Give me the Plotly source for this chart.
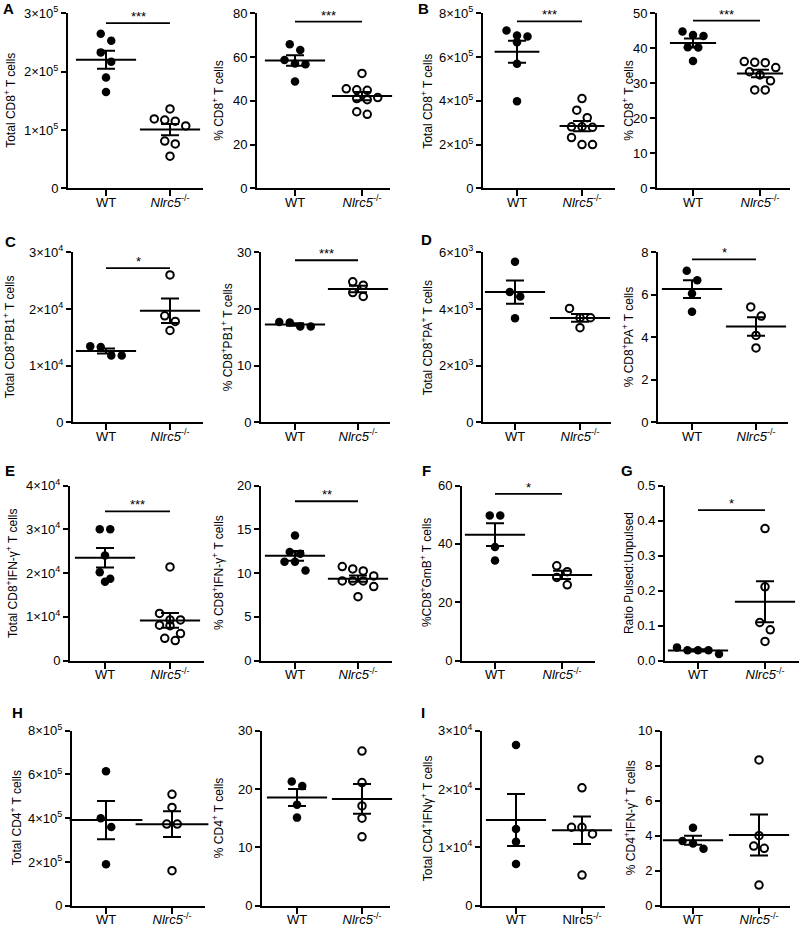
import numpy as np
import plotly.graph_objects as go

# ---------------- data ----------------
GROUPS = ["WT", "Nlrc5"]

A_total_wt = [2.65e5, 2.53e5, 2.33e5, 2.17e5, 1.90e5, 1.65e5]
A_total_ko = [1.36e5, 1.17e5, 1.07e5, 1.15e5, 1.19e5, 0.81e5, 0.76e5, 0.55e5]
A_pct_wt = [65.8, 63.2, 56.7, 57.1, 58.7, 48.8]
A_pct_ko = [52.5, 45.0, 45.5, 44.8, 41.5, 41.0, 40.5, 35.0, 33.8]

B_total_wt = [6.98e5, 7.21e5, 6.94e5, 6.68e5, 5.69e5, 3.98e5]
B_total_ko = [4.10e5, 3.57e5, 3.23e5, 2.79e5, 2.81e5, 2.81e5, 2.32e5, 2.00e5, 2.00e5]
B_pct_wt = [44.8, 43.5, 43.8, 40.3, 40.2, 36.4]
B_pct_ko = [35.9, 36.2, 36.0, 34.5, 33.3, 32.4, 30.7, 28.1, 28.1]

C_total_wt = [1.33e4, 1.34e4, 1.18e4, 1.18e4]
C_total_ko = [2.60e4, 1.88e4, 1.78e4, 1.62e4]
C_pct_wt = [17.7, 16.9, 16.9, 17.6]
C_pct_ko = [24.8, 24.2, 22.9, 22.2]

D_total_wt = [5.67e3, 4.60e3, 4.44e3, 3.67e3]
D_total_ko = [4.02e3, 3.69e3, 3.69e3, 3.34e3]
D_pct_wt = [6.69, 7.13, 6.06, 5.20]
D_pct_ko = [5.43, 5.00, 4.09, 3.50]

E_total_wt = [3.00e4, 3.00e4, 2.40e4, 2.02e4, 1.80e4, 1.87e4]
E_total_ko = [2.14e4, 1.08e4, 0.93e4, 0.93e4, 0.81e4, 0.80e4, 0.62e4, 0.51e4, 0.46e4]
E_pct_wt = [14.3, 12.4, 12.2, 11.3, 11.3, 10.3]
E_pct_ko = [10.74, 10.48, 10.25, 9.68, 9.11, 9.11, 9.11, 8.46, 7.31]

F_pct_wt = [49.7, 49.7, 38.9, 34.3]
F_pct_ko = [32.5, 30.5, 28.5, 26.0]

G_ratio_wt = [0.038, 0.030, 0.019, 0.030, 0.030]
G_ratio_ko = [0.377, 0.211, 0.109, 0.088, 0.055]

H_total_wt = [6.15e5, 4.00e5, 3.60e5, 1.90e5]
H_total_ko = [5.09e5, 4.49e5, 3.73e5, 3.73e5, 1.60e5]
H_pct_wt = [20.5, 21.3, 17.3, 15.1]
H_pct_ko = [26.5, 21.1, 17.1, 15.0, 11.8]

I_total_wt = [2.755e4, 1.315e4, 1.098e4, 0.715e4]
I_total_ko = [2.02e4, 1.345e4, 1.345e4, 1.23e4, 0.526e4]
I_pct_wt = [4.45, 3.70, 3.55, 3.25]
I_pct_ko = [8.33, 4.00, 3.41, 3.28, 1.18]

# ---------------- layout geometry (pixels in 800x926 page) ----------------
W, H = 800, 926
FONT = "Arial, Liberation Sans, sans-serif"
KO_IT = "<i>Nlrc5</i><sup>-/-</sup>"
KO_PLAIN = "Nlrc5<sup>-/-</sup>"

ROW1 = (13.3, 188.3)
ROW2 = (252.3, 422.3)
ROW3 = (485.5, 660.7)
ROW4 = (730.7, 905.7)

PANELS = [
    dict(wt=A_total_wt, ko=A_total_ko, x0=68, x1=203, tw=106, tk=170, row=ROW1, ymax=3e5, step=1e5, sci=5,
         title="Total CD8<sup>+</sup> T cells", tx=10, sig=("***", 2.83e5)),
    dict(wt=A_pct_wt, ko=A_pct_ko, x0=257, x1=390, tw=295, tk=362, row=ROW1, ymax=80, step=20,
         title="% CD8<sup>+</sup> T cells", tx=218, sig=("***", 76.2)),
    dict(wt=B_total_wt, ko=B_total_ko, x0=483, x1=615, tw=517, tk=582, row=ROW1, ymax=8e5, step=2e5, sci=5,
         title="Total CD8<sup>+</sup> T cells", tx=427, sig=("***", 7.63e5), mw=32),
    dict(wt=B_pct_wt, ko=B_pct_ko, x0=657, x1=790, tw=693, tk=760, row=ROW1, ymax=50, step=10,
         title="% CD8<sup>+</sup> T cells", tx=628, sig=("***", 47.9), mw=33),
    dict(wt=C_total_wt, ko=C_total_ko, x0=73, x1=203, tw=106, tk=170, row=ROW2, ymax=3e4, step=1e4, sci=4,
         title="Total CD8<sup>+</sup>PB1<sup>+</sup> T cells", tx=9, sig=("*", 2.72e4)),
    dict(wt=C_pct_wt, ko=C_pct_ko, x0=261, x1=390, tw=295, tk=358, row=ROW2, ymax=30, step=10,
         title="% CD8<sup>+</sup>PB1<sup>+</sup> T cells", tx=227, sig=("***", 28.6)),
    dict(wt=D_total_wt, ko=D_total_ko, x0=483, x1=611, tw=515, tk=580, row=ROW2, ymax=6e3, step=2e3, sci=3,
         title="Total CD8<sup>+</sup>PA<sup>+</sup> T cells", tx=427, sig=None),
    dict(wt=D_pct_wt, ko=D_pct_ko, x0=658, x1=788, tw=692, tk=756, row=ROW2, ymax=8, step=2,
         title="% CD8<sup>+</sup>PA<sup>+</sup> T cells", tx=628, sig=("*", 7.67)),
    dict(wt=E_total_wt, ko=E_total_ko, x0=70, x1=204, tw=105, tk=170, row=ROW3, ymax=4e4, step=1e4, sci=4,
         title="Total CD8<sup>+</sup>IFN-γ<sup>+</sup> T cells", tx=12, sig=("***", 3.41e4)),
    dict(wt=E_pct_wt, ko=E_pct_ko, x0=261, x1=392, tw=295, tk=358, row=ROW3, ymax=20, step=5,
         title="% CD8<sup>+</sup>IFN-γ<sup>+</sup> T cells", tx=218, sig=("**", 18.2)),
    dict(wt=F_pct_wt, ko=F_pct_ko, x0=462, x1=595, tw=495, tk=562, row=ROW3, ymax=60, step=20,
         title="%CD8<sup>+</sup>GmB<sup>+</sup> T cells", tx=426, sig=("*", 57.1)),
    dict(wt=G_ratio_wt, ko=G_ratio_ko, x0=665, x1=799, tw=698, tk=765, row=ROW3, ymax=0.5, step=0.1, dec=1,
         title="Ratio Pulsed:Unpulsed", tx=629, sig=("*", 0.43)),
    dict(wt=H_total_wt, ko=H_total_ko, x0=72, x1=205, tw=106, tk=172, row=ROW4, ymax=8e5, step=2e5, sci=5,
         title="Total CD4<sup>+</sup> T cells", tx=16, sig=None, mw=52),
    dict(wt=H_pct_wt, ko=H_pct_ko, x0=262, x1=390, tw=297, tk=362, row=ROW4, ymax=30, step=10,
         title="% CD4<sup>+</sup> T cells", tx=218, sig=None),
    dict(wt=I_total_wt, ko=I_total_ko, x0=482, x1=605, tw=516, tk=582, row=ROW4, ymax=3e4, step=1e4, sci=4,
         title="Total CD4<sup>+</sup>IFNγ<sup>+</sup> T cells", tx=427, sig=None, ko_label=KO_PLAIN),
    dict(wt=I_pct_wt, ko=I_pct_ko, x0=662, x1=790, tw=693, tk=759, row=ROW4, ymax=10, step=2,
         title="% CD4<sup>+</sup>IFN-γ<sup>+</sup> T cells", tx=630, sig=None),
]

LETTERS = [("A", 8, 8), ("B", 423, 8), ("C", 10, 242), ("D", 427, 239), ("E", 10, 470),
           ("F", 427, 470), ("G", 627, 470), ("H", 17, 712), ("I", 423, 712)]


def swarm(vals, center, px_x, px_y, spacing=10.5, row_h=9.5):
    order = sorted(range(len(vals)), key=lambda i: -vals[i])
    rows = []
    for i in order:
        if rows and (vals[rows[-1][0]] - vals[i]) * px_y < row_h:
            rows[-1].append(i)
        else:
            rows.append([i])
    xs = [0.0] * len(vals)
    for r in rows:
        n = len(r)
        for k, i in enumerate(r):
            xs[i] = center + (k - (n - 1) / 2) * spacing / px_x
    return xs


def tick_text(v, p):
    if p.get("sci"):
        if v == 0:
            return "0"
        e = p["sci"]
        return f"{round(v / 10 ** e):d}×10<sup>{e}</sup>"
    if p.get("dec"):
        return f"{v:.{p['dec']}f}"
    return f"{v:g}"


fig = go.Figure()
layout = {}
annotations = []
shapes = []

for idx, p in enumerate(PANELS, start=1):
    xa = "xaxis" if idx == 1 else f"xaxis{idx}"
    ya = "yaxis" if idx == 1 else f"yaxis{idx}"
    xr = "x" if idx == 1 else f"x{idx}"
    yr = "y" if idx == 1 else f"y{idx}"
    ytop, ybot = p["row"]
    px_x = p["tk"] - p["tw"]
    px_y = (ybot - ytop) / p["ymax"]
    r0 = (p["x0"] - p["tw"]) / px_x
    r1 = 1 + (p["x1"] - p["tk"]) / px_x

    ko_label = p.get("ko_label", KO_IT)
    layout[xa] = dict(
        domain=[p["x0"] / W, p["x1"] / W], range=[r0, r1], anchor=yr, automargin=False,
        tickvals=[0, 1], ticktext=["WT", ko_label], ticklabelstandoff=-5,
        showline=True, linewidth=2, linecolor="black", ticks="outside", ticklen=6,
        tickwidth=2, tickcolor="black", showgrid=False, zeroline=False, fixedrange=True,
        tickfont=dict(family=FONT, size=13, color="black"),
    )
    tv = list(np.round(np.arange(0, p["ymax"] + p["step"] / 2, p["step"]), 6))
    layout[ya] = dict(
        domain=[1 - ybot / H, 1 - ytop / H], range=[0, p["ymax"]], anchor=xr, automargin=False,
        tickvals=tv, ticktext=[tick_text(v, p) for v in tv],
        showline=True, linewidth=2, linecolor="black", ticks="outside", ticklen=5,
        tickwidth=2, tickcolor="black", showgrid=False, zeroline=False, fixedrange=True,
        tickfont=dict(family=FONT, size=13, color="black"),
    )

    for g, vals in enumerate([p["wt"], p["ko"]]):
        xs = swarm(vals, g, px_x, px_y)
        if g == 0:
            marker = dict(symbol="circle", size=8.5, color="black")
        else:
            marker = dict(symbol="circle-open", size=7.5, color="black", line=dict(width=2, color="black"))
        fig.add_trace(go.Scatter(x=xs, y=vals, mode="markers", marker=marker, xaxis=xr, yaxis=yr,
                                 cliponaxis=False, showlegend=False, hoverinfo="y"))
        m = float(np.mean(vals))
        s = float(np.std(vals, ddof=1) / np.sqrt(len(vals)))
        fig.add_trace(go.Scatter(
            x=[g], y=[m], mode="markers", xaxis=xr, yaxis=yr, showlegend=False, cliponaxis=False,
            marker=dict(symbol="line-ew", size=p.get("mw", 43), color="black",
                        line=dict(width=2, color="black")),
            error_y=dict(type="data", array=[s], visible=True, width=9, thickness=2, color="black"),
        ))

    if p["sig"]:
        stars, lvl = p["sig"]
        shapes.append(dict(type="line", xref=xr, yref=yr, x0=0, x1=1, y0=lvl, y1=lvl,
                           line=dict(color="black", width=1.8)))
        annotations.append(dict(text=stars, xref=xr, yref=yr, x=0.5, y=lvl, yanchor="bottom",
                                showarrow=False, yshift=-3,
                                font=dict(family=FONT, size=13, color="black")))

    annotations.append(dict(text=p["title"], xref="paper", yref="paper", x=p["tx"] / W,
                            y=1 - (ytop + ybot) / 2 / H, textangle=-90, showarrow=False,
                            xanchor="center", yanchor="middle",
                            font=dict(family=FONT, size=12, color="black")))

for letter, lx, ly in LETTERS:
    annotations.append(dict(text=f"<b>{letter}</b>", xref="paper", yref="paper", x=lx / W, y=1 - ly / H,
                            xanchor="center", yanchor="middle", showarrow=False,
                            font=dict(family=FONT, size=15, color="black")))

fig.update_layout(
    width=W, height=H, margin=dict(l=0, r=0, t=0, b=0, autoexpand=False),
    paper_bgcolor="white", plot_bgcolor="white", hovermode=False,
    annotations=annotations, shapes=shapes, **layout,
)

fig.write_html(
    "out.html",
    config={"displayModeBar": False, "staticPlot": True},
    post_script="document.body.style.margin='0';document.body.style.overflow='hidden';",
)
